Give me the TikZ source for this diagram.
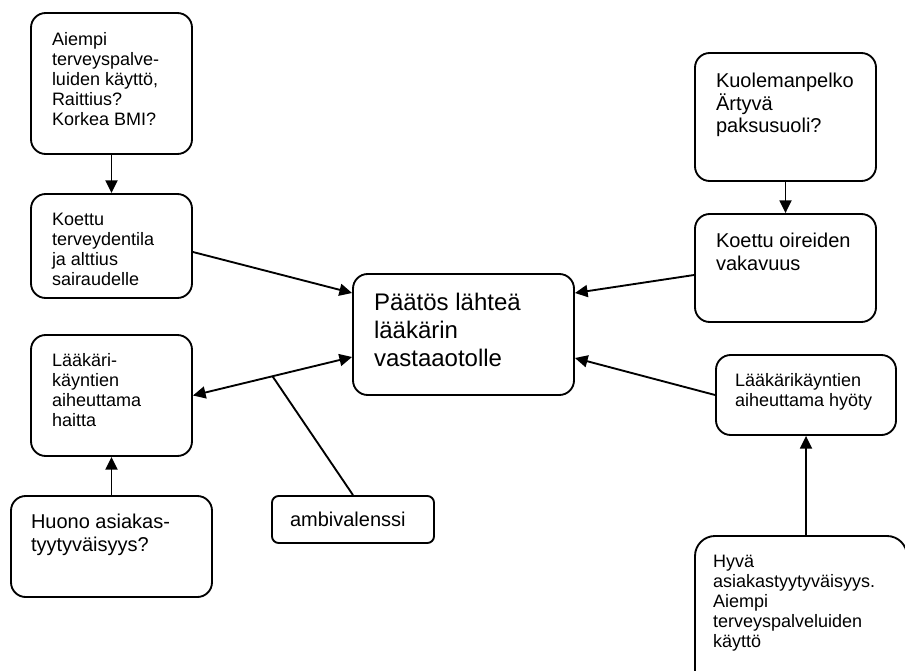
\documentclass[tikz,border=0pt]{standalone}
\usepackage{fontspec}
\setmainfont{Liberation Sans}
\usetikzlibrary{arrows.meta,calc}

% top-aligned, left-aligned text block of fixed size inside a box
% #1 text width, #2 box height, #3 top padding, #4 text
\newcommand\boxtext[4]{\parbox[c][#2][t]{#1}{\raggedright\hyphenpenalty=10000\exhyphenpenalty=10000\vspace*{#3}#4}}

\begin{document}
\begin{tikzpicture}[x=0.75pt,y=-0.75pt,
  box/.style={draw, line width=1.4pt, rounded corners=11pt, inner ysep=0pt, fill=white},
  small/.style={font=\fontsize{13.5pt}{15pt}\selectfont},
  medium/.style={font=\fontsize{15pt}{17pt}\selectfont},
  large/.style={font=\fontsize{18pt}{21pt}\selectfont},
  conn/.style={line width=1.4pt},
  tip/.style={-{Triangle[length=9.5pt,width=9pt]}},
  tips/.style={{Triangle[length=9.5pt,width=9pt]}-{Triangle[length=9.5pt,width=9pt]}}]
\useasboundingbox (0,0) rectangle (905,670);
\clip (0,0) rectangle (905,670);

% left column
\node[box, small, inner xsep=15.75pt] (a) at (111.5,83.5)
  {\boxtext{89.25pt}{105.75pt}{14.25pt}{Aiempi\\terveyspalve-\\luiden käyttö,\\Raittius?\\Korkea BMI?}};
\node[box, small, inner xsep=15.75pt] (b) at (111.5,246)
  {\boxtext{89.25pt}{78pt}{14.25pt}{Koettu\\terveydentila\\ja alttius\\sairaudelle}};
\node[box, small, inner xsep=15.75pt] (c) at (111.5,395.5)
  {\boxtext{89.25pt}{90.75pt}{13.5pt}{Lääkäri-\\käyntien\\aiheuttama\\haitta}};
\node[box, medium, inner xsep=15pt] (d) at (111.5,546.5)
  {\boxtext{120.75pt}{75.75pt}{13.5pt}{Huono asiakas-\\tyytyväisyys?}};
\node[box, medium, rounded corners=5pt, inner xsep=13.5pt] (amb) at (353,519.5)
  {\boxtext{94.5pt}{35.25pt}{12pt}{ambivalenssi}};

% centre
\node[box, large, inner xsep=15.75pt] (ctr) at (463.5,334.5)
  {\boxtext{134.25pt}{90.75pt}{14.25pt}{Päätös lähteä\\lääkärin\\vastaaotolle}};

% right column
\node[box, medium, inner xsep=15.75pt] (e) at (785.5,117)
  {\boxtext{104.25pt}{96pt}{15pt}{Kuolemanpelko\\Ärtyvä\\paksusuoli?}};
\node[box, medium, inner xsep=15.75pt] (f) at (785.5,268)
  {\boxtext{104.25pt}{81pt}{14.25pt}{Koettu oireiden\\vakavuus}};
\node[box, small, inner xsep=14.25pt] (g) at (806,395)
  {\boxtext{106.5pt}{60pt}{13.5pt}{Lääkärikäyntien\\aiheuttama hyöty}};
\node[box, small, rounded corners=15pt, inner xsep=13.5pt] (h) at (801,618)
  {\boxtext{132pt}{123pt}{14.25pt}{Hyvä\\asiakastyytyväisyys.\\Aiempi\\terveyspalveluiden\\käyttö}};

% entry points on the centre box
\coordinate (ctrW1) at ($(ctr.west)+(0,-41.5)$);
\coordinate (ctrW2) at ($(ctr.west)+(0,22.5)$);
\coordinate (ctrE1) at ($(ctr.east)+(0,-41.5)$);
\coordinate (ctrE2) at ($(ctr.east)+(0,23.5)$);
\coordinate (ambmeet) at ($(c.east)!0.5!(ctrW2)$);

% connectors
\draw[conn, tip] (a.south) -- (b.north);
\draw[conn, tip] ($(b.east)+(0,6)$) -- (ctrW1);
\draw[conn, tips] (c.east) -- (ctrW2);
\draw[conn] (amb.north) -- (ambmeet);
\draw[conn, tip] (d.north) -- (c.south);
\draw[conn, tip] (e.south) -- (f.north);
\draw[conn, tip] ($(f.west)+(0,7)$) -- (ctrE1);
\draw[conn, tip] (g.west) -- (ctrE2);
\draw[conn, tip] (g.south |- h.north) -- (g.south);
\end{tikzpicture}
\end{document}
